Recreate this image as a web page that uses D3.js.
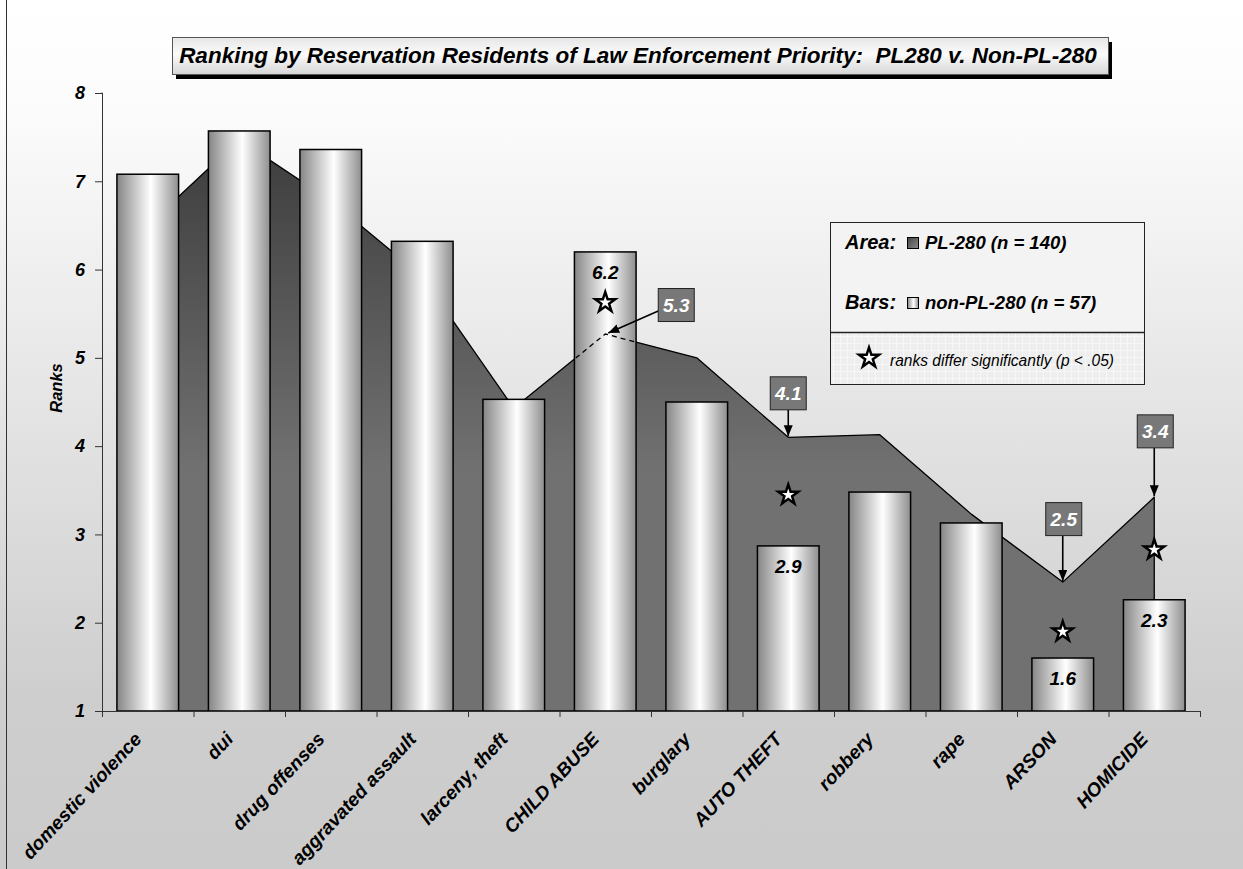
<!DOCTYPE html>
<html>
<head>
<meta charset="utf-8">
<script src="https://cdn.jsdelivr.net/npm/d3@7"></script>
<style>
	body { margin: 0; background: #fff; }
	svg { display: block; font-family: 'Liberation Sans', Arial, sans-serif; }
	.bi { font-weight: bold; font-style: italic; }
</style>
</head>
<body>
<div id="chart"></div>
<script>
// crime categories, in the order of the x axis
const categories = ['domestic violence', 'dui', 'drug offenses', 'aggravated assault', 'larceny, theft',
	'CHILD ABUSE', 'burglary', 'AUTO THEFT', 'robbery', 'rape', 'ARSON', 'HOMICIDE'];

// bars: non-PL-280 mean ranks
const nonPl280Ranks = [7.08, 7.57, 7.36, 6.32, 4.53, 6.2, 4.5, 2.87, 3.48, 3.13, 1.6, 2.26];

// area: PL-280 mean ranks
const pl280Ranks = [6.5, 7.47, 6.78, 5.92, 4.43, 5.27, 5.0, 4.1, 4.13, 3.23, 2.46, 3.42];

// categories where the ranks differ significantly, and where their stars sit (in rank units)
const significant = ['CHILD ABUSE', 'AUTO THEFT', 'ARSON', 'HOMICIDE'];
const starRanks = [5.65, 3.47, 1.92, 2.85];

const yTicks = [1, 2, 3, 4, 5, 6, 7, 8];
const titleText = 'Ranking by Reservation Residents of Law Enforcement Priority:  PL280 v. Non-PL-280';
const legendLabels = ['PL-280 (n = 140)', 'non-PL-280 (n = 57)'];
const legendNote = 'ranks differ significantly (p < .05)';

class RankChart {
	constructor(_config) {
		this.config = {
			parentElement: _config.parentElement,
			containerWidth: 1243,
			containerHeight: 869,
			plot: { left: 102, right: 1200, top: 93, bottom: 711 },
			// where each callout box sits relative to its PL-280 point
			callouts: {
				'CHILD ABUSE': { dx: 71, dy: -29 },
				'AUTO THEFT': { dx: 0, dy: -44 },
				'ARSON': { dx: 1, dy: -63 },
				'HOMICIDE': { dx: 1, dy: -66 }
			}
		};
		this.initVis();
	}

	initVis() {
		let vis = this;
		const p = vis.config.plot;

		vis.svg = d3.select(vis.config.parentElement)
			.append('svg')
			.attr('width', vis.config.containerWidth)
			.attr('height', vis.config.containerHeight);

		const defs = vis.svg.append('defs');

		const bg = defs.append('linearGradient').attr('id', 'bg')
			.attr('x1', 0).attr('y1', 0).attr('x2', 0).attr('y2', 1);
		bg.append('stop').attr('offset', 0).attr('stop-color', '#ffffff');
		bg.append('stop').attr('offset', 0.12).attr('stop-color', '#fcfcfc');
		bg.append('stop').attr('offset', 0.8).attr('stop-color', '#cecece');
		bg.append('stop').attr('offset', 1).attr('stop-color', '#cbcbcb');

		const areaGrad = defs.append('linearGradient').attr('id', 'areaGrad')
			.attr('gradientUnits', 'userSpaceOnUse')
			.attr('x1', 0).attr('y1', 130).attr('x2', 0).attr('y2', 470);
		areaGrad.append('stop').attr('offset', 0).attr('stop-color', '#3b3b3b');
		areaGrad.append('stop').attr('offset', 1).attr('stop-color', '#717171');

		const barGrad = defs.append('linearGradient').attr('id', 'barGrad')
			.attr('x1', 0).attr('y1', 0).attr('x2', 1).attr('y2', 0);
		barGrad.append('stop').attr('offset', 0).attr('stop-color', '#858585');
		barGrad.append('stop').attr('offset', 0.55).attr('stop-color', '#ffffff');
		barGrad.append('stop').attr('offset', 1).attr('stop-color', '#8e8e8e');

		const swatchGrad = defs.append('linearGradient').attr('id', 'swatchGrad')
			.attr('x1', 0).attr('y1', 0).attr('x2', 1).attr('y2', 1);
		swatchGrad.append('stop').attr('offset', 0).attr('stop-color', '#444');
		swatchGrad.append('stop').attr('offset', 1).attr('stop-color', '#8a8a8a');

		const titleGrad = defs.append('linearGradient').attr('id', 'titleGrad')
			.attr('x1', 0).attr('y1', 0).attr('x2', 0).attr('y2', 1);
		titleGrad.append('stop').attr('offset', 0).attr('stop-color', '#e6e6e6');
		titleGrad.append('stop').attr('offset', 0.45).attr('stop-color', '#fbfbfb');
		titleGrad.append('stop').attr('offset', 1).attr('stop-color', '#d6d6d6');

		const grid = defs.append('pattern').attr('id', 'grid')
			.attr('patternUnits', 'userSpaceOnUse').attr('width', 7).attr('height', 7);
		grid.append('rect').attr('width', 7).attr('height', 7).attr('fill', '#eeeeee');
		grid.append('path').attr('d', 'M0,0.5H7M0.5,0V7').attr('stroke', '#f7f7f7').attr('stroke-width', 1);

		defs.append('marker').attr('id', 'arrow')
			.attr('markerUnits', 'userSpaceOnUse')
			.attr('markerWidth', 12).attr('markerHeight', 10)
			.attr('refX', 11).attr('refY', 4.5).attr('orient', 'auto')
			.append('path').attr('d', 'M0,0L11,4.5L0,9Z').attr('fill', '#000');

		vis.x = d3.scaleBand()
			.domain(categories)
			.range([p.left, p.right])
			.paddingInner(0.326)
			.paddingOuter(0.163);

		// category boundaries for the tick marks
		vis.xEdge = d3.scaleLinear()
			.domain([0, categories.length])
			.range([p.left, p.right]);

		vis.y = d3.scaleLinear()
			.domain([1, 8])
			.range([p.bottom, p.top]);

		vis.cx = d => vis.x(d) + vis.x.bandwidth() / 2;

		vis.renderVis();
	}

	renderVis() {
		let vis = this;
		const p = vis.config.plot;
		const bw = vis.x.bandwidth();

		vis.svg.append('rect')
			.attr('width', vis.config.containerWidth)
			.attr('height', vis.config.containerHeight)
			.attr('fill', 'url(#bg)');

		vis.svg.append('line')
			.attr('x1', 6.5).attr('x2', 6.5).attr('y1', 0).attr('y2', vis.config.containerHeight)
			.attr('stroke', '#333').attr('stroke-width', 1);

		// PL-280 area
		const areaData = categories.map((c, i) => ({ c, v: pl280Ranks[i] }));
		const area = d3.area()
			.x(d => vis.cx(d.c))
			.y0(vis.y(1))
			.y1(d => vis.y(d.v));
		const line = d3.line()
			.x(d => vis.cx(d.c))
			.y(d => vis.y(d.v));

		vis.svg.append('path')
			.datum(areaData)
			.attr('d', area)
			.attr('fill', 'url(#areaGrad)')
			.attr('stroke', '#000')
			.attr('stroke-width', 1.3)
			.attr('stroke-linejoin', 'round');

		// non-PL-280 bars
		vis.svg.selectAll('.bar')
			.data(categories)
			.join('rect')
			.attr('class', 'bar')
			.attr('x', d => vis.x(d))
			.attr('width', bw)
			.attr('y', (d, i) => vis.y(nonPl280Ranks[i]))
			.attr('height', (d, i) => vis.y(1) - vis.y(nonPl280Ranks[i]))
			.attr('fill', 'url(#barGrad)')
			.attr('stroke', '#000')
			.attr('stroke-width', 1.5);

		// where the area line passes behind a taller bar, show it dashed
		const hidden = categories.filter((c, i) => significant.includes(c) && pl280Ranks[i] < nonPl280Ranks[i]);
		hidden.forEach((c, k) => {
			const i = categories.indexOf(c);
			const clipId = 'clip' + k;
			vis.svg.append('clipPath').attr('id', clipId)
				.append('rect')
				.attr('x', vis.x(c) + 1).attr('width', bw - 2)
				.attr('y', vis.y(nonPl280Ranks[i])).attr('height', vis.y(1) - vis.y(nonPl280Ranks[i]));
			vis.svg.append('path')
				.datum(areaData)
				.attr('d', line)
				.attr('clip-path', `url(#${clipId})`)
				.attr('fill', 'none')
				.attr('stroke', '#000')
				.attr('stroke-width', 1.3)
				.attr('stroke-dasharray', '5,4');
		});

		// axes
		const yAxis = d3.axisLeft(vis.y).tickValues(yTicks).tickSize(7).tickPadding(10).tickFormat(d3.format('d'));
		const gy = vis.svg.append('g').attr('transform', `translate(${p.left},0)`).call(yAxis);
		gy.select('.domain').attr('stroke', '#333').attr('d', `M-0.5,${p.top}H0.5V${p.bottom}`);
		gy.selectAll('.tick line').attr('stroke', '#333');
		gy.selectAll('.tick text')
			.attr('class', 'bi')
			.attr('font-size', 18)
			.attr('font-family', 'Liberation Sans, Arial, sans-serif')
			.attr('fill', '#000');

		const xAxis = d3.axisBottom(vis.xEdge).tickValues(d3.range(categories.length + 1)).tickSize(6).tickFormat('');
		const gx = vis.svg.append('g').attr('transform', `translate(0,${p.bottom})`).call(xAxis);
		gx.select('.domain').attr('stroke', '#333').attr('d', `M${p.left},0.5H${p.right}`);
		gx.selectAll('.tick line').attr('stroke', '#333');

		vis.svg.selectAll('.x-label')
			.data(categories)
			.join('text')
			.attr('class', 'x-label bi')
			.attr('font-size', 19)
			.attr('text-anchor', 'end')
			.attr('transform', d => `translate(${vis.cx(d) - 5},${p.bottom + 29}) rotate(-47)`)
			.text(d => d);

		vis.svg.append('text')
			.attr('class', 'bi')
			.attr('font-size', 16.5)
			.attr('text-anchor', 'middle')
			.attr('transform', `translate(62,388) rotate(-90)`)
			.text('Ranks');

		// values printed on the significant bars
		vis.svg.selectAll('.bar-label')
			.data(significant)
			.join('text')
			.attr('class', 'bar-label bi')
			.attr('font-size', 19)
			.attr('text-anchor', 'middle')
			.attr('x', d => vis.cx(d))
			.attr('y', d => vis.y(nonPl280Ranks[categories.indexOf(d)]) + 27)
			.text(d => d3.format('.1f')(nonPl280Ranks[categories.indexOf(d)]));

		// stars
		const star = (r) => d3.symbol(d3.symbolStar, r * r / 0.8908130915292852)();
		const stars = vis.svg.selectAll('.star')
			.data(significant)
			.join('g')
			.attr('class', 'star')
			.attr('transform', (d, i) => `translate(${vis.cx(d)},${vis.y(starRanks[i]) + 2})`);
		stars.append('path').attr('d', star(14.5)).attr('fill', '#000');
		stars.append('path').attr('d', star(6.5)).attr('fill', '#fff');

		// callouts with the PL-280 value
		const bw2 = 36, bh = 33;
		significant.forEach(c => {
			const i = categories.indexOf(c);
			const px = vis.cx(c), py = vis.y(pl280Ranks[i]);
			const off = vis.config.callouts[c];
			const bx = px + off.dx, by = py + off.dy;
			let sx, sy;
			if (Math.abs(off.dx) > 20) {
				sx = bx - bw2 / 2; sy = by + 6;
			} else {
				sx = px; sy = by + bh / 2;
			}
			vis.svg.append('line')
				.attr('x1', sx).attr('y1', sy)
				.attr('x2', px + (Math.abs(off.dx) > 20 ? 3 : 0)).attr('y2', py - 1)
				.attr('stroke', '#000').attr('stroke-width', 1.6)
				.attr('marker-end', 'url(#arrow)');
			vis.svg.append('rect')
				.attr('x', bx - bw2 / 2).attr('y', by - bh / 2)
				.attr('width', bw2).attr('height', bh)
				.attr('fill', '#787878').attr('stroke', '#222').attr('stroke-width', 1);
			vis.svg.append('text')
				.attr('class', 'bi')
				.attr('font-size', 19)
				.attr('fill', '#fff')
				.attr('text-anchor', 'middle')
				.attr('x', bx).attr('y', by + 7)
				.text(d3.format('.1f')(pl280Ranks[i]));
		});

		vis.renderLegend();
		vis.renderTitle();
	}

	renderLegend() {
		let vis = this;
		const lx = 830, ly = 222, lw = 314, lh = 162, split = 110;
		const g = vis.svg.append('g');

		g.append('rect').attr('x', lx).attr('y', ly).attr('width', lw).attr('height', split)
			.attr('fill', '#f3f3f3');
		g.append('rect').attr('x', lx).attr('y', ly + split).attr('width', lw).attr('height', lh - split)
			.attr('fill', 'url(#grid)');
		g.append('rect').attr('x', lx + 0.5).attr('y', ly + 0.5).attr('width', lw).attr('height', lh)
			.attr('fill', 'none').attr('stroke', '#222').attr('stroke-width', 1);
		g.append('line').attr('x1', lx).attr('x2', lx + lw).attr('y1', ly + split + 0.5).attr('y2', ly + split + 0.5)
			.attr('stroke', '#222').attr('stroke-width', 1.5);

		const rows = [
			{ head: 'Area:', label: legendLabels[0], fill: 'url(#swatchGrad)', y: ly + 27 },
			{ head: 'Bars:', label: legendLabels[1], fill: 'url(#barGrad)', y: ly + 87 }
		];
		rows.forEach(r => {
			g.append('text').attr('class', 'bi').attr('font-size', 20)
				.attr('x', lx + 15).attr('y', r.y).text(r.head);
			g.append('rect').attr('x', lx + 77.5).attr('y', r.y - 11.5).attr('width', 11).attr('height', 11)
				.attr('fill', r.fill).attr('stroke', '#000').attr('stroke-width', 1);
			g.append('text').attr('class', 'bi').attr('font-size', 18.5)
				.attr('x', lx + 95).attr('y', r.y).text(r.label);
		});

		const star = (r) => d3.symbol(d3.symbolStar, r * r / 0.8908130915292852)();
		const sg = g.append('g').attr('transform', `translate(${lx + 39},${ly + 136})`);
		sg.append('path').attr('d', star(14.5)).attr('fill', '#000');
		sg.append('path').attr('d', star(6.5)).attr('fill', '#fff');

		g.append('text')
			.attr('font-family', 'Liberation Sans Narrow, Liberation Sans, Arial, sans-serif')
			.attr('font-style', 'italic')
			.attr('font-size', 16)
			.attr('x', lx + 60).attr('y', ly + 144)
			.attr('textLength', 224)
			.attr('lengthAdjust', 'spacingAndGlyphs')
			.text(legendNote);
	}

	renderTitle() {
		let vis = this;
		const tx = 172, ty = 37, tw = 936, th = 37;
		vis.svg.append('rect').attr('x', tx + 4).attr('y', ty + 5).attr('width', tw).attr('height', th)
			.attr('fill', '#000');
		vis.svg.append('rect').attr('x', tx + 0.5).attr('y', ty + 0.5).attr('width', tw).attr('height', th)
			.attr('fill', 'url(#titleGrad)').attr('stroke', '#555').attr('stroke-width', 1);
		vis.svg.append('text')
			.attr('class', 'bi')
			.attr('font-size', 22.5)
			.attr('text-anchor', 'middle')
			.style('white-space', 'pre')
			.attr('x', tx + tw / 2 - 2).attr('y', ty + 26)
			.text(titleText);
	}
}

new RankChart({ parentElement: '#chart' });
</script>
</body>
</html>
